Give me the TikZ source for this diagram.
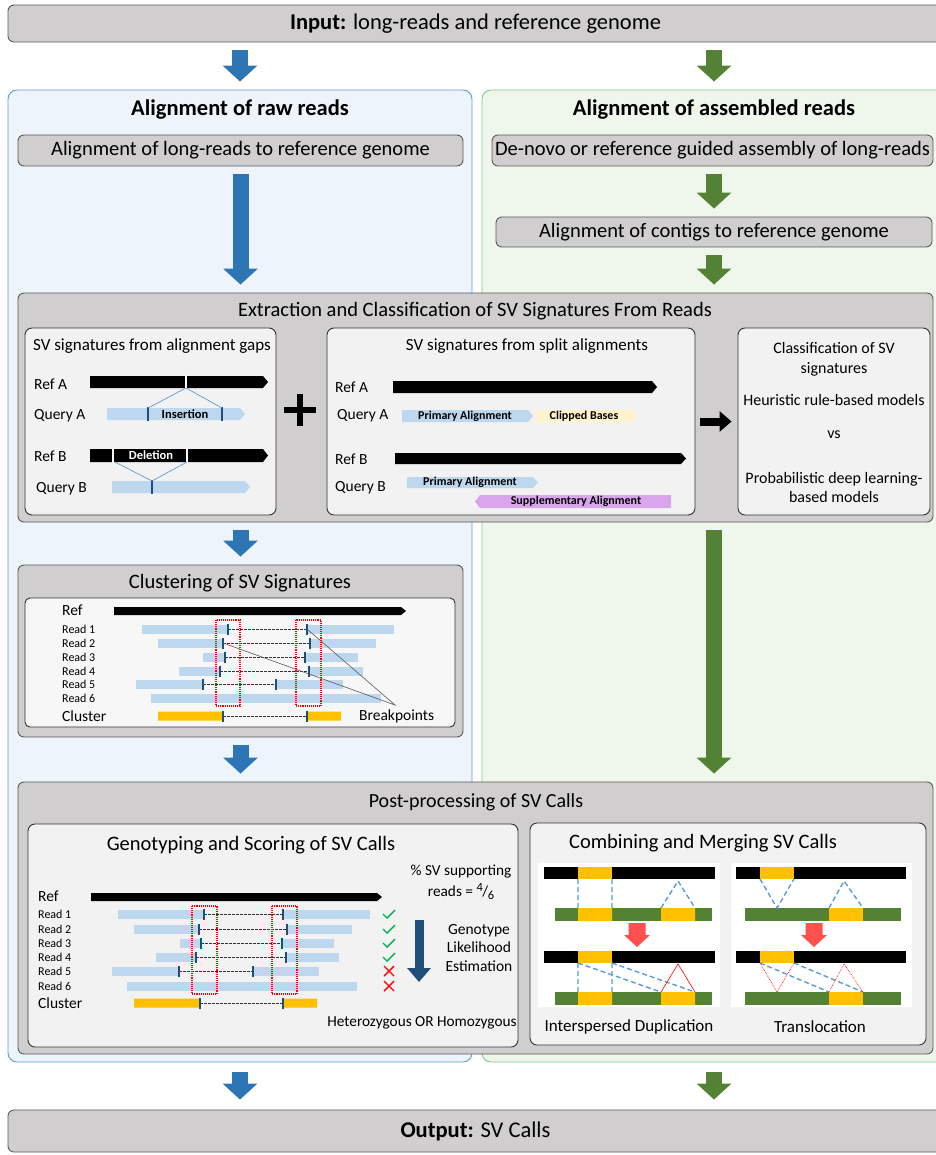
\documentclass[tikz,border=0pt]{standalone}
\usepackage{fontspec}
\setmainfont{Carlito}
\usetikzlibrary{arrows.meta,positioning,calc}

\definecolor{boxgray}{HTML}{D0CECE}
\definecolor{subgray}{HTML}{F2F2F2}
\definecolor{rawfill}{HTML}{EEF4FB}
\definecolor{rawline}{HTML}{5B9BD5}
\definecolor{asmfill}{HTML}{EFF6EC}
\definecolor{asmline}{HTML}{7FCB8F}
\definecolor{arrblue}{HTML}{2E75B6}
\definecolor{arrgreen}{HTML}{548235}
\definecolor{readblue}{HTML}{BDD7EE}
\definecolor{tickblue}{HTML}{1F4E79}
\definecolor{clustorange}{HTML}{FFC000}
\definecolor{clipyellow}{HTML}{FFF2CC}
\definecolor{supppurple}{HTML}{D9A6EE}
\definecolor{dashblue}{HTML}{5B9BD5}
\definecolor{arrred}{HTML}{FF5050}
\definecolor{okgreen}{HTML}{00B050}

% bar with a pointed right end: x1, x2, ytop, ybot, colour
\newcommand\seqbar[5]{\fill[#5] (#1,#3) -- ({#2-5},#3) -- (#2,{(#3+#4)/2}) -- ({#2-5},#4) -- (#1,#4) -- cycle;}
% split read: y, start, end, break 1, break 2
\newcommand\readrow[5]{%
  \fill[readblue] (#2,{#1-4.5}) rectangle (#4,{#1+4.5});
  \fill[readblue] (#5,{#1-4.5}) rectangle (#3,{#1+4.5});
  \draw[brkdash] (#4,#1) -- (#5,#1);
  \draw[brktick] (#4,{#1-5.5}) -- (#4,{#1+5.5});
  \draw[brktick] (#5,{#1-5.5}) -- (#5,{#1+5.5});}
\newcommand\okmark[2]{\draw[okgreen, line width=1.4pt] ({#1-6},#2) -- ({#1-2},{#2+4}) -- ({#1+6},{#2-4});}
\newcommand\nomark[2]{\draw[red, line width=1.4pt] ({#1-5},{#2-5}) -- ({#1+5},{#2+5}) ({#1-5},{#2+5}) -- ({#1+5},{#2-5});}

\begin{document}
\begin{tikzpicture}[x=1pt, y=-1pt,
  panelraw/.style={draw=rawline, fill=rawfill, rounded corners=9pt, line width=0.9pt},
  panelasm/.style={draw=asmline, fill=asmfill, rounded corners=9pt, line width=0.9pt},
  graybox/.style={draw=black!65, fill=boxgray, rounded corners=6pt, line width=0.9pt, inner sep=0pt},
  subbox/.style={draw=black!80, fill=subgray, rounded corners=7pt, line width=0.9pt, inner sep=0pt},
  txt/.style={inner sep=0pt},
  lbl/.style={inner sep=0pt, anchor=west, font=\fontsize{15.5}{18}\selectfont},
  readlbl/.style={inner sep=0pt, anchor=west, font=\fontsize{12}{14}\selectfont},
  tag/.style={inner sep=0pt, font=\bfseries\fontsize{12.5}{14}\selectfont},
  brkdash/.style={black!80, line width=0.6pt, dash pattern=on 2.5pt off 1.5pt},
  brktick/.style={tickblue, line width=2.2pt},
  redbox/.style={red, line width=1.1pt, densely dotted},
  sigline/.style={dashblue, line width=0.7pt},
  mergedash/.style={dashblue, line width=1.4pt, dash pattern=on 5pt off 3pt},
  bluearr/.style={draw=arrblue, line width=16pt, -{Triangle[width=34pt,length=16pt]}, shorten <=8pt, shorten >=8pt},
  greenarr/.style={bluearr, draw=arrgreen},
  blkarr/.style={draw=black, line width=8pt, -{Triangle[width=20pt,length=12pt]}, shorten <=5pt, shorten >=6pt}]

  \useasboundingbox (0,0) rectangle (935,1155);
  \fill[white] (0,0) rectangle (935,1155);

  % two columns
  \node[panelraw, minimum width=464pt, minimum height=972pt] (lpanel) at (240,576) {};
  \node[panelasm, minimum width=464pt, minimum height=972pt] (rpanel) at (714,576) {};
  \node[txt, font=\bfseries\fontsize{22.5}{26}\selectfont] (ltitle) at (240,110) {Alignment of raw reads};
  \node[txt, font=\bfseries\fontsize{22.5}{26}\selectfont] (rtitle) at (714,110) {Alignment of assembled reads};

  % input / output
  \node[graybox, minimum width=935pt, minimum height=37pt, font=\fontsize{22.5}{26}\selectfont] (input) at (475.5,23.5) {\textbf{Input:} long-reads and reference genome};
  \node[graybox, minimum width=935pt, minimum height=42pt, font=\fontsize{22.5}{26}\selectfont] (output) at (475.5,1131) {\textbf{Output:} SV Calls};

  % alignment steps
  \node[graybox, minimum width=445pt, minimum height=31pt, font=\fontsize{20.5}{24}\selectfont] (lalign) at (240.5,150.5) {Alignment of long-reads to reference genome};
  \node[graybox, minimum width=441pt, minimum height=31pt, font=\fontsize{20.5}{24}\selectfont] (denovo) at (712.5,150.5) {De-novo or reference guided assembly of long-reads};
  \node[graybox, minimum width=436pt, minimum height=30pt, font=\fontsize{20.5}{24}\selectfont] (contig) at (714,232) {Alignment of contigs to reference genome};

  % extraction and classification
  \node[graybox, minimum width=915pt, minimum height=229pt] (extract) at (475.5,407.5) {};
  \node[txt, font=\fontsize{20.5}{24}\selectfont] (extitle) at (475,311) {Extraction and Classification of SV Signatures From Reads};
  \node[subbox, minimum width=251pt, minimum height=187pt] (gapsbox) at (150.5,421.5) {};
  \node[subbox, minimum width=368pt, minimum height=187pt] (splitbox) at (511,421.5) {};
  \node[subbox, minimum width=192pt, minimum height=187pt] (classbox) at (834,421.5) {};
  \draw[black, line width=6pt] (284,410) -- (316,410) (300,394) -- (300,426);
  \draw[blkarr] (splitbox.east) -- (classbox.west);

  % signatures from alignment gaps
  \node[txt, font=\fontsize{17}{20}\selectfont] (gapstitle) at (152,346) {SV signatures from alignment gaps};
  \node[lbl] (grefA) at (34,384) {Ref A};
  \node[lbl] (gqA) at (34,416) {Query A};
  \node[lbl] (grefB) at (34,456) {Ref B};
  \node[lbl] (gqB) at (36,489) {Query B};
  \seqbar{90}{268}{376}{388}{black}
  \draw[white, line width=1.6pt] (186,375) -- (186,389);
  \seqbar{107}{245}{408}{420}{readblue}
  \draw[brktick] (148,407) -- (148,421) (222,407) -- (222,421);
  \draw[sigline] (148,408) -- (186,388) -- (222,408);
  \node[tag] (ins) at (185,414) {Insertion};
  \seqbar{90}{268}{449}{462}{black}
  \draw[white, line width=1.6pt] (113,448) -- (113,463) (187,448) -- (187,463);
  \node[tag, text=white] (del) at (151,455) {Deletion};
  \seqbar{112}{250}{481}{493}{readblue}
  \draw[brktick] (152,480) -- (152,494);
  \draw[sigline] (115,462) -- (152,481) -- (187,462);

  % signatures from split alignments
  \node[txt, font=\fontsize{17}{20}\selectfont] (splittitle) at (527,346) {SV signatures from split alignments};
  \node[lbl] (srefA) at (335,387) {Ref A};
  \node[lbl] (sqA) at (337,416) {Query A};
  \node[lbl] (srefB) at (335,459) {Ref B};
  \node[lbl] (sqB) at (335,488) {Query B};
  \seqbar{393}{657}{381}{393}{black}
  \fill[readblue] (402,410) -- (528,410) -- (533,416) -- (528,422) -- (402,422) -- cycle;
  \fill[clipyellow] (533,410) -- (632,410) -- (637,416) -- (632,422) -- (533,422) -- (538,416) -- cycle;
  \node[tag, font=\bfseries\fontsize{12}{14}\selectfont] (primA) at (465,416) {Primary Alignment};
  \node[tag, font=\bfseries\fontsize{12}{14}\selectfont] (clip) at (584,416) {Clipped Bases};
  \seqbar{395}{686}{453}{464}{black}
  \fill[readblue] (407,477) -- (533,477) -- (538,482.5) -- (533,488) -- (407,488) -- cycle;
  \node[tag, font=\bfseries\fontsize{12}{14}\selectfont] (primB) at (470,482.5) {Primary Alignment};
  \fill[supppurple] (480,495) -- (671,495) -- (671,508) -- (480,508) -- (475,501.5) -- cycle;
  \node[tag, font=\bfseries\fontsize{12}{14}\selectfont] (supp) at (576,501.5) {Supplementary Alignment};

  % classification
  \node[txt, align=center, font=\fontsize{16}{20}\selectfont] (clsA) at (834,359) {Classification of SV\\signatures};
  \node[txt, font=\fontsize{16}{19}\selectfont] (clsB) at (834,400) {Heuristic rule-based models};
  \node[txt, font=\fontsize{16}{19}\selectfont] (clsC) at (834,435) {vs};
  \node[txt, align=center, font=\fontsize{16}{19}\selectfont] (clsD) at (834,487.5) {Probabilistic deep learning-\\based models};

  % clustering
  \node[graybox, minimum width=445pt, minimum height=172pt] (cluster) at (240.5,651) {};
  \node[txt, font=\fontsize{20.5}{24}\selectfont] (cltitle) at (240,583) {Clustering of SV Signatures};
  \node[draw=black!80, fill=subgray!60, rounded corners=5pt, line width=0.9pt, minimum width=430pt, minimum height=129pt] (clustin) at (240,662.5) {};
  \node[lbl] (cref) at (62,610) {Ref};
  \seqbar{114}{406}{607}{615}{black}
  \foreach \yy/\aa/\bb/\pp/\qq/\nn in {629/142/394/228/307/1, 643/158/376/223/310/2, 657/203/358/225/305/3, 671/179/363/220/309/4, 684/136/343/203/276/5} {
    \readrow{\yy}{\aa}{\bb}{\pp}{\qq}
    \node[readlbl] (cread\nn) at (62,\yy) {Read \nn};
  }
  \fill[readblue] (151,693.5) rectangle (381,702.5);
  \node[readlbl] (cread6) at (62,698) {Read 6};
  \draw[redbox] (216,620) rectangle (240,706) (296,620) rectangle (321,706);
  \node[lbl] (cclust) at (62,716) {Cluster};
  \fill[clustorange] (158,711.5) rectangle (223,720.5) (307,711.5) rectangle (341,720.5);
  \draw[brkdash] (223,716) -- (307,716);
  \draw[brktick] (223,710.5) -- (223,721.5) (307,710.5) -- (307,721.5);
  \node[lbl] (bkpts) at (359,716) {Breakpoints};
  \draw[black!65, line width=0.6pt] (307,629) -- (395,705) -- (223,643);

  % post-processing
  \node[graybox, minimum width=915pt, minimum height=272pt] (post) at (475.5,918) {};
  \node[txt, font=\fontsize{20}{24}\selectfont] (posttitle) at (476,802) {Post-processing of SV Calls};

  % genotyping and scoring
  \node[subbox, minimum width=490pt, minimum height=223pt] (genobox) at (273,935.5) {};
  \node[txt, font=\fontsize{20.5}{24}\selectfont] (gentitle) at (251,845) {Genotyping and Scoring of SV Calls};
  \node[txt, align=center, font=\fontsize{15.3}{21}\selectfont] (support) at (461,882) {\% SV supporting\\reads = \raisebox{5pt}{\fontsize{12.5}{14}\selectfont 4}\kern-0.5pt/\kern-0.5pt\raisebox{-3pt}{\fontsize{12.5}{14}\selectfont 6}};
  \node[lbl] (gref) at (38,896) {Ref};
  \seqbar{91}{382}{893}{901}{black}
  \foreach \yy/\aa/\bb/\pp/\qq/\nn in {914/118/370/204/283/1, 929/134/352/199/287/2, 943/180/334/201/282/3, 957/156/339/196/286/4, 971/112/319/179/253/5} {
    \readrow{\yy}{\aa}{\bb}{\pp}{\qq}
    \node[readlbl] (gread\nn) at (38,\yy) {Read \nn};
  }
  \fill[readblue] (127,981.5) rectangle (357,990.5);
  \node[readlbl] (gread6) at (38,986) {Read 6};
  \draw[redbox] (192,906) rectangle (217,994) (272,906) rectangle (297,994);
  \node[lbl] (gclust) at (38,1003) {Cluster};
  \fill[clustorange] (134,998.5) rectangle (200,1007.5) (283,998.5) rectangle (317,1007.5);
  \draw[brkdash] (200,1003) -- (283,1003);
  \draw[brktick] (200,997.5) -- (200,1008.5) (283,997.5) -- (283,1008.5);
  \foreach \yy in {914,929,943,957} {\okmark{389}{\yy}}
  \foreach \yy in {971,986} {\nomark{389}{\yy}}
  \coordinate (gtop) at (419,920);
  \coordinate (gbot) at (419,982);
  \draw[tickblue, line width=9pt, -{Triangle[width=23pt,length=14pt]}] (gtop) -- (gbot);
  \node[txt, align=center, font=\fontsize{15.5}{18.5}\selectfont] (gle) at (479,948) {Genotype\\Likelihood\\Estimation};
  \node[txt, font=\fontsize{15.3}{18}\selectfont] (zyg) at (422,1023) {Heterozygous OR Homozygous};

  % combining and merging
  \node[subbox, minimum width=396pt, minimum height=222pt] (combbox) at (728,934) {};
  \node[txt, font=\fontsize{20.5}{24}\selectfont] (combtitle) at (703,843) {Combining and Merging SV Calls};
  \fill[white] (538,863) rectangle (720,1007) (731,863) rectangle (912,1007);
  % interspersed duplication
  \fill[black] (544,867) rectangle (715,879);
  \fill[clustorange] (578,867) rectangle (612,879);
  \fill[arrgreen] (555,908) rectangle (712,921);
  \fill[clustorange] (578,908) rectangle (612,921) (661,908) rectangle (695,921);
  \draw[mergedash] (578,879) -- (578,908) (612,879) -- (612,908) (661,908) -- (678,881) -- (695,908);
  \fill[arrred] (628.5,923) -- (645.5,923) -- (645.5,935) -- (650,935) -- (637,947) -- (624,935) -- (628.5,935) -- cycle;
  \fill[black] (544,951) rectangle (715,963);
  \fill[clustorange] (578,951) rectangle (612,963);
  \fill[arrgreen] (555,992) rectangle (712,1005);
  \fill[clustorange] (578,992) rectangle (612,1005) (661,992) rectangle (695,1005);
  \draw[mergedash] (578,963) -- (578,992) (612,963) -- (612,992) (578,963) -- (661,992) (612,963) -- (695,992);
  \draw[red, line width=0.6pt] (661,992) -- (678,964) -- (695,992);
  \node[txt, font=\fontsize{17}{20}\selectfont] (dup) at (629,1027) {Interspersed Duplication};
  % translocation
  \fill[black] (736,867) rectangle (906,879);
  \fill[clustorange] (760,867) rectangle (794,879);
  \fill[arrgreen] (745,908) rectangle (901,921);
  \fill[clustorange] (829,908) rectangle (863,921);
  \draw[mergedash] (760,879) -- (777,908) -- (794,879) (829,908) -- (844,881) -- (863,908);
  \fill[arrred] (805.5,923) -- (822.5,923) -- (822.5,935) -- (827,935) -- (814,947) -- (801,935) -- (805.5,935) -- cycle;
  \fill[black] (736,951) rectangle (906,963);
  \fill[clustorange] (760,951) rectangle (794,963);
  \fill[arrgreen] (745,992) rectangle (901,1005);
  \fill[clustorange] (829,992) rectangle (863,1005);
  \draw[mergedash] (760,963) -- (829,992) (794,963) -- (863,992);
  \draw[red, line width=0.7pt, densely dotted] (760,963) -- (777,992) -- (794,963) (829,992) -- (844,964) -- (863,992);
  \node[txt, font=\fontsize{17}{20}\selectfont] (transl) at (820,1027) {Translocation};

  % flow arrows
  \draw[bluearr] (input.south -| lpanel.north) -- (lpanel.north);
  \draw[greenarr] (input.south -| rpanel.north) -- (rpanel.north);
  \draw[bluearr] (lalign.south) -- (lalign.south |- extract.north);
  \draw[greenarr] (contig.north |- denovo.south) -- (contig.north);
  \draw[greenarr] (contig.south) -- (contig.south |- extract.north);
  \draw[bluearr] (extract.south -| cluster.north) -- (cluster.north);
  \draw[greenarr] (extract.south -| rpanel.north) -- (post.north -| rpanel.north);
  \draw[bluearr] (cluster.south) -- (post.north -| cluster.south);
  \draw[bluearr, shorten <=10pt, shorten >=10pt] (lpanel.south) -- (output.north -| lpanel.south);
  \draw[greenarr, shorten <=10pt, shorten >=10pt] (rpanel.south) -- (output.north -| rpanel.south);
\end{tikzpicture}
\end{document}
